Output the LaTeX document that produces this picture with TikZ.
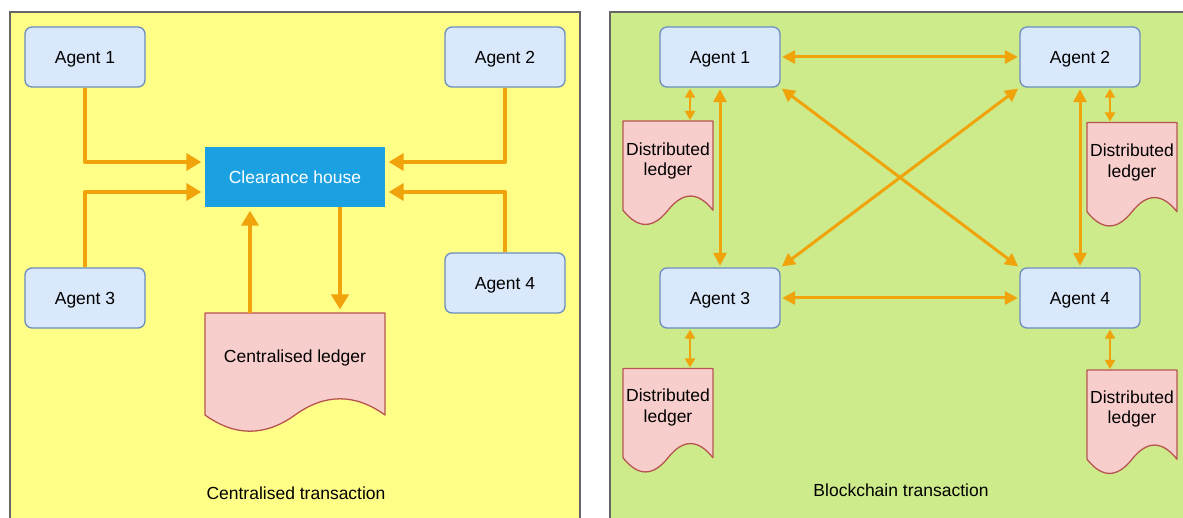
\documentclass[tikz,border=0pt]{standalone}
\usepackage{fontspec}
\setmainfont{Liberation Sans}
\usetikzlibrary{arrows.meta,calc}

\definecolor{panelY}{HTML}{FFFF88}
\definecolor{panelG}{HTML}{CDEB8B}
\definecolor{panelLine}{HTML}{666666}
\definecolor{agentFill}{HTML}{DAE8FC}
\definecolor{agentLine}{HTML}{6C8EBF}
\definecolor{docFill}{HTML}{F8CECC}
\definecolor{docLine}{HTML}{B85450}
\definecolor{hubFill}{HTML}{1BA1E2}
\definecolor{flow}{HTML}{F0A30A}

% layers: panels at the back, document outlines above them, everything else on main
\pgfdeclarelayer{panels}
\pgfdeclarelayer{docs}
\pgfsetlayers{panels,docs,main}

\tikzset{
  every node/.style={font=\fontsize{17.5}{20.5}\selectfont},
  agent/.style={draw=agentLine, fill=agentFill, line width=1.3pt, rounded corners=7pt,
    minimum width=120pt, minimum height=60pt, inner sep=0pt, text depth=0pt},
  hub/.style={fill=hubFill, text=white, minimum width=180pt, minimum height=60pt,
    inner sep=0pt, text depth=0pt},
  ledger/.style={inner sep=0pt, outer sep=0pt},
  ledgertext/.style={align=center, inner sep=0pt},
  ledgerline/.style={draw=docLine, fill=docFill, line width=1.3pt, line join=round},
  panel/.style={draw=panelLine, line width=1.8pt},
  bigflow/.style={draw=flow, line width=4pt, line join=round,
    -{Triangle[length=15pt,width=17pt]}, shorten >=3.5pt},
  meshflow/.style={draw=flow, line width=3pt,
    {Triangle[length=13pt,width=13pt]}-{Triangle[length=13pt,width=13pt]},
    shorten >=1.5pt, shorten <=1.5pt},
  syncflow/.style={draw=flow, line width=2pt,
    {Triangle[length=9pt,width=10pt]}-{Triangle[length=9pt,width=10pt]},
    shorten >=1pt, shorten <=1pt},
  caption/.style={anchor=base, inner sep=0pt},
}

% Document outline (flat top, wavy bottom) drawn over the bounds of a ledger node
\newcommand\ledgeroutline[1]{%
  \begin{pgfonlayer}{docs}
  \path[ledgerline] let \p1=(#1.north west), \p2=(#1.south east),
      \n1={\x2-\x1}, \n2={0.3*(\y1-\y2)}, \n3={\y2+0.5*\n2} in
    (\x1,\y1) -- (\x2,\y1) -- (\x2,\n3)
    .. controls (\x1+5*\n1/6,\n3+0.6*\n2) and (\x1+2*\n1/3,\n3+0.6*\n2) .. (\x1+0.5*\n1,\n3)
    .. controls (\x1+\n1/3,\n3-0.6*\n2) and (\x1+\n1/6,\n3-0.6*\n2) .. (\x1,\n3) -- cycle;
  \end{pgfonlayer}}

\begin{document}
\begin{tikzpicture}[x=1pt,y=-1pt]
  \clip (0,0) rectangle (1183,518);

  % two panels
  \begin{pgfonlayer}{panels}
    \fill[white] (0,0) rectangle (1183,518);
    \filldraw[panel, fill=panelY] (10,12) rectangle (580,540);
    \filldraw[panel, fill=panelG] (610,12) rectangle (1200,540);
  \end{pgfonlayer}

  % ---------- centralised ----------
  \node[agent] (la1) at (85,57) {Agent 1};
  \node[agent] (la2) at (505,57) {Agent 2};
  \node[agent] (la3) at (85,298) {Agent 3};
  \node[agent] (la4) at (505,283) {Agent 4};
  \node[hub] (ch) at (295,177) {Clearance house};
  \node[ledger, minimum width=180pt, minimum height=120pt,
        label={[ledgertext, yshift=14.7pt]center:Centralised ledger}] (cl) at (295,373) {};
  \ledgeroutline{cl}

  \draw[bigflow] (la1.south) |- ([yshift=15pt]ch.west);
  \draw[bigflow] (la3.north) |- ([yshift=-15pt]ch.west);
  \draw[bigflow] (la2.south) |- ([yshift=15pt]ch.east);
  \draw[bigflow] (la4.north) |- ([yshift=-15pt]ch.east);
  \draw[bigflow] ([xshift=-45pt]cl.north) -- ([xshift=-45pt]ch.south);
  \draw[bigflow] ([xshift=45pt]ch.south) -- ([xshift=45pt]cl.north);

  \node[caption] (capL) at (296,499.5) {Centralised transaction};

  % ---------- blockchain ----------
  \node[agent] (ra1) at (720,57) {Agent 1};
  \node[agent] (ra2) at (1080,57) {Agent 2};
  \node[agent] (ra3) at (720,298) {Agent 3};
  \node[agent] (ra4) at (1080,298) {Agent 4};

  \node[ledger, minimum width=90pt, minimum height=105pt,
        label={[ledgertext, yshift=12.5pt]center:Distributed\\ledger}] (dl1) at (668,173.5) {};
  \node[ledger, minimum width=90pt, minimum height=105pt,
        label={[ledgertext, yshift=12.5pt]center:Distributed\\ledger}] (dl2) at (1132,175) {};
  \node[ledger, minimum width=90pt, minimum height=105pt,
        label={[ledgertext, yshift=13.5pt]center:Distributed\\ledger}] (dl3) at (668,421) {};
  \node[ledger, minimum width=90pt, minimum height=105pt,
        label={[ledgertext, yshift=13.5pt]center:Distributed\\ledger}] (dl4) at (1132,422.5) {};
  \ledgeroutline{dl1}
  \ledgeroutline{dl2}
  \ledgeroutline{dl3}
  \ledgeroutline{dl4}

  \draw[meshflow] (ra1.east) -- (ra2.west);
  \draw[meshflow] (ra3.east) -- (ra4.west);
  \draw[meshflow] (ra1.south) -- (ra3.north);
  \draw[meshflow] (ra2.south) -- (ra4.north);
  \draw[meshflow] (ra1.south east) -- (ra4.north west);
  \draw[meshflow] (ra2.south west) -- (ra3.north east);

  \draw[syncflow] ([xshift=-30pt]ra1.south) -- ([xshift=-30pt]ra1.south |- dl1.north);
  \draw[syncflow] ([xshift=30pt]ra2.south) -- ([xshift=30pt]ra2.south |- dl2.north);
  \draw[syncflow] ([xshift=-30pt]ra3.south) -- ([xshift=-30pt]ra3.south |- dl3.north);
  \draw[syncflow] ([xshift=30pt]ra4.south) -- ([xshift=30pt]ra4.south |- dl4.north);

  \node[caption] (capR) at (901,496.7) {Blockchain transaction};
\end{tikzpicture}
\end{document}
